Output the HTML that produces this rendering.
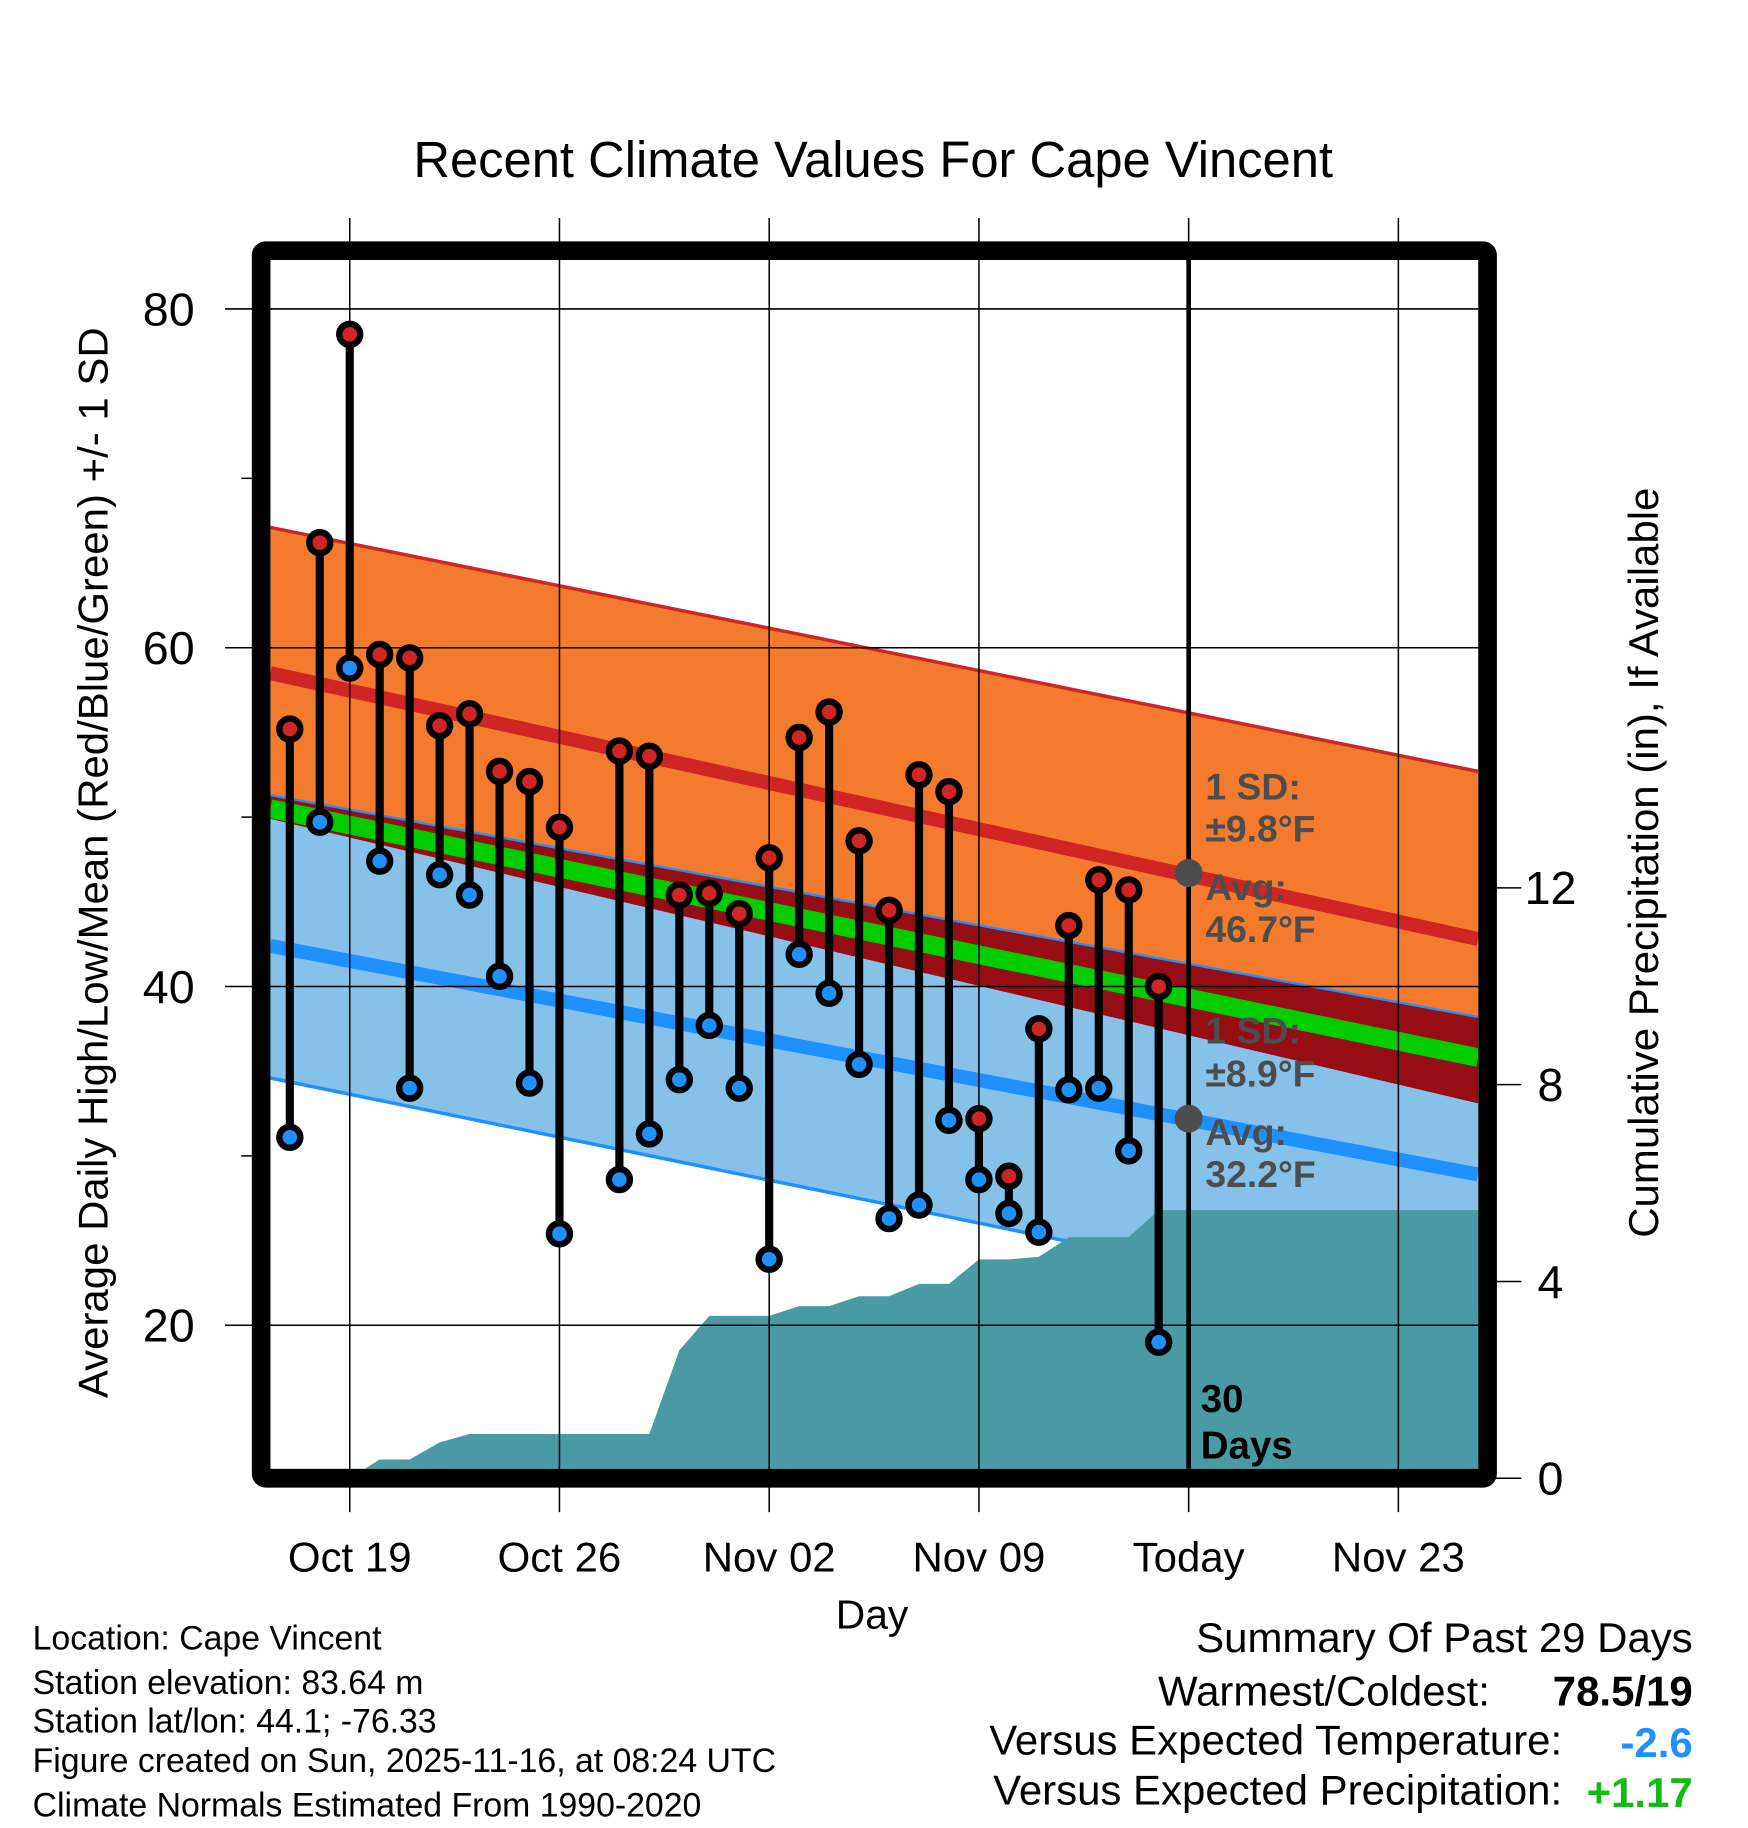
<!DOCTYPE html>
<html><head><meta charset="utf-8"><style>
html,body{margin:0;padding:0;background:#fff;}
svg{display:block;font-family:"Liberation Sans",Arial,sans-serif;}
</style></head><body>
<svg id="chart" width="1748" height="1828" viewBox="0 0 1499.4 1568" preserveAspectRatio="none" xmlns="http://www.w3.org/2000/svg">
<g id="bands"></g>
<g id="precip"></g>
<g id="grid"></g>
<g id="annot">
  <text x="1034" y="686" font-size="32" font-weight="bold" fill="#4d4d4d">1 SD:</text>
  <text x="1034" y="722" font-size="32" font-weight="bold" fill="#4d4d4d">±9.8°F</text>
  <text x="1034" y="772" font-size="32" font-weight="bold" fill="#4d4d4d">Avg:</text>
  <text x="1034" y="808" font-size="32" font-weight="bold" fill="#4d4d4d">46.7°F</text>
  <text x="1034" y="895" font-size="32" font-weight="bold" fill="#4d4d4d">1 SD:</text>
  <text x="1034" y="932" font-size="32" font-weight="bold" fill="#4d4d4d">±8.9°F</text>
  <text x="1034" y="982" font-size="32" font-weight="bold" fill="#4d4d4d">Avg:</text>
  <text x="1034" y="1018" font-size="32" font-weight="bold" fill="#4d4d4d">32.2°F</text>
  <text x="1030" y="1211" font-size="33" font-weight="bold" fill="#000">30</text>
  <text x="1030" y="1251" font-size="33" font-weight="bold" fill="#000">Days</text>
</g>
<g id="marks"></g>
<rect x="224" y="215" width="1052" height="1053" fill="none" stroke="#000" stroke-width="16" rx="4"/>
<g id="axes"></g>
<text x="749" y="152" font-size="43.5" text-anchor="middle">Recent Climate Values For Cape Vincent</text>
<text transform="translate(92,740) rotate(-90)" font-size="36" text-anchor="middle">Average Daily High/Low/Mean (Red/Blue/Green) +/- 1 SD</text>
<text transform="translate(1422,740) rotate(-90)" font-size="36" text-anchor="middle">Cumulative Precipitation (in), If Available</text>
<text x="748" y="1397" font-size="35" text-anchor="middle">Day</text>
<g font-size="29">
  <text x="28" y="1415">Location: Cape Vincent</text>
  <text x="28" y="1453">Station elevation: 83.64 m</text>
  <text x="28" y="1486">Station lat/lon: 44.1; -76.33</text>
  <text x="28" y="1520">Figure created on Sun, 2025-11-16, at 08:24 UTC</text>
  <text x="28" y="1558">Climate Normals Estimated From 1990-2020</text>
</g>
<g font-size="36">
  <text x="1452" y="1417" text-anchor="end">Summary Of Past 29 Days</text>
  <text x="1278" y="1463" text-anchor="end">Warmest/Coldest:</text>
  <text x="1452" y="1463" text-anchor="end" font-weight="bold">78.5/19</text>
  <text x="1340" y="1505" text-anchor="end">Versus Expected Temperature:</text>
  <text x="1452" y="1507" text-anchor="end" font-weight="bold" fill="#1e90ff">-2.6</text>
  <text x="1340" y="1548" text-anchor="end">Versus Expected Precipitation:</text>
  <text x="1452" y="1550" text-anchor="end" font-weight="bold" fill="#11bb11">+1.17</text>
</g>
</svg>
<script>
// day index 0 = Oct 17
const highs = [55.2,66.2,78.5,59.6,59.4,55.4,56.1,52.7,52.1,49.4,null,53.9,53.6,45.4,45.5,44.3,47.6,54.7,56.2,48.6,44.5,52.5,51.5,32.2,28.8,37.5,43.6,46.3,45.7,40.0];
const lows  = [31.1,49.7,58.8,47.4,34.0,46.6,45.4,40.6,34.3,25.4,null,28.6,31.3,34.5,37.7,34.0,23.9,41.9,39.6,35.4,26.3,27.1,32.1,28.6,26.6,25.5,33.9,34.0,30.3,19.0];
const precip = [0,0,0,0.38,0.38,0.73,0.9,0.9,0.9,0.9,0.9,0.9,0.9,2.6,3.3,3.3,3.3,3.5,3.5,3.7,3.7,3.95,3.95,4.45,4.45,4.5,4.9,4.9,4.9,5.45];
const normIdx = [-0.65, 39.66];
const highUpper = [67.1, 52.7];
const highMean = [58.5, 42.8];
const highLower = [49.9, 33.1];
const meanMean = [50.5, 35.8];
const lowUpper = [51.3, 38.2];
const lowMean = [42.4, 28.9];
const lowLower = [34.6, 20.0];
const xTickIdx = [2,9,16,23,30,37];
const xTickLabels = ["Oct 19","Oct 26","Nov 02","Nov 09","Today","Nov 23"];
const yTicks = [20,40,60,80];
const yMinor = [30,50,70];
const pTicks = [0,4,8,12];

const NS="http://www.w3.org/2000/svg";
const L=232,R=1268,T=222,B=1260;
function xOf(i){return 248.6+i*25.7;}
function yT(t){return 265+(80-t)*14.53;}
function yP(p){return 1268-p*42.2;}
function mk(tag,attrs,parent){const e=document.createElementNS(NS,tag);for(const k in attrs)e.setAttribute(k,attrs[k]);parent.appendChild(e);return e;}
function pts(arr){return normIdx.map((d,k)=>xOf(d)+","+yT(arr[k])).join(" ");}
function band(up,lo){return normIdx.map((d,k)=>xOf(d)+","+yT(up[k])).concat(normIdx.slice().reverse().map((d,k)=>xOf(d)+","+yT(lo[normIdx.length-1-k]))).join(" ");}

const bands=document.getElementById('bands');
let e;
e=mk('polygon',{points:band(highUpper,highLower),fill:'#f47a2e'},bands);


e=mk('polygon',{points:band(lowUpper,lowLower),fill:'#85c1e9'},bands);


const ovUp=lowUpper.map((v,k)=>Math.min(v,highUpper[k]));
const ovLo=highLower.map((v,k)=>Math.max(v,lowLower[k]));
e=mk('polygon',{points:band(ovUp,ovLo),fill:'#960e14'},bands);


e=mk('polyline',{points:pts(highUpper),fill:'none',stroke:'#d02525','stroke-width':3},bands);


e=mk('polyline',{points:pts(lowUpper),fill:'none',stroke:'#1e90ff','stroke-width':2},bands);


e=mk('polyline',{points:pts(lowLower),fill:'none',stroke:'#1e90ff','stroke-width':3},bands);


e=mk('polyline',{points:pts(meanMean),fill:'none',stroke:'#00cc00','stroke-width':16},bands);


e=mk('polyline',{points:pts(highMean),fill:'none',stroke:'#d02525','stroke-width':12},bands);


e=mk('polyline',{points:pts(lowMean),fill:'none',stroke:'#1e90ff','stroke-width':12},bands);



// precip
const pg=document.getElementById('precip');
let pp=[L+","+B,L+","+yP(0)];
precip.forEach((v,i)=>pp.push(xOf(i)+","+yP(v)));
pp.push(R+","+yP(precip[precip.length-1]));pp.push(R+","+B);
e=mk('polygon',{points:pp.join(" "),fill:'#4a9aa5'},pg);



// grid
const grid=document.getElementById('grid');
xTickIdx.forEach(i=>{
  e=mk('line',{x1:xOf(i),x2:xOf(i),y1:187,y2:1297,stroke:'#000','stroke-width':1.3},grid);
  
  
});
yTicks.forEach(t=>{
  e=mk('line',{x1:193,x2:R,y1:yT(t),y2:yT(t),stroke:'#000','stroke-width':1.3},grid);
  
  
});

// marks
const mg=document.getElementById('marks');
e=mk('line',{x1:xOf(30),x2:xOf(30),y1:T,y2:B,stroke:'#000','stroke-width':4},mg);


e=mk('circle',{cx:xOf(30),cy:yT(46.7),r:12,fill:'#4d4d4d'},mg);


e=mk('circle',{cx:xOf(30),cy:yT(32.2),r:12,fill:'#4d4d4d'},mg);


highs.forEach((h,i)=>{
  const lo=lows[i]; if(h==null||lo==null)return;
  const x=xOf(i);
  e=mk('line',{x1:x,x2:x,y1:yT(h),y2:yT(lo),stroke:'#000','stroke-width':7},mg);
  
  
});
highs.forEach((h,i)=>{
  const lo=lows[i]; if(h==null||lo==null)return;
  const x=xOf(i);
  e=mk('circle',{cx:x,cy:yT(h),r:9,fill:'#d02525',stroke:'#000','stroke-width':5.5},mg);
  
  
  e=mk('circle',{cx:x,cy:yT(lo),r:9,fill:'#1e90ff',stroke:'#000','stroke-width':5.5},mg);
  
  
});

// axes labels
const ax=document.getElementById('axes');
yTicks.forEach(t=>{
  e=mk('text',{x:167,y:yT(t)+14,'font-size':40,'text-anchor':'end'},ax);
  e.textContent=t;
  
  
});
yMinor.forEach(t=>{
  e=mk('line',{x1:207,x2:216,y1:yT(t),y2:yT(t),stroke:'#000','stroke-width':1.3},ax);
  
  
});
pTicks.forEach(p=>{
  e=mk('line',{x1:1283,x2:1305,y1:yP(p),y2:yP(p),stroke:'#000','stroke-width':1.3},ax);
  
  
  e=mk('text',{x:1330,y:yP(p)+14,'font-size':40,'text-anchor':'middle'},ax);
  e.textContent=p;
  
  
});
xTickIdx.forEach((i,k)=>{
  e=mk('text',{x:xOf(i),y:1348,'font-size':36,'text-anchor':'middle'},ax);
  e.textContent=xTickLabels[k];
  
  
});
</script>
</body></html>
